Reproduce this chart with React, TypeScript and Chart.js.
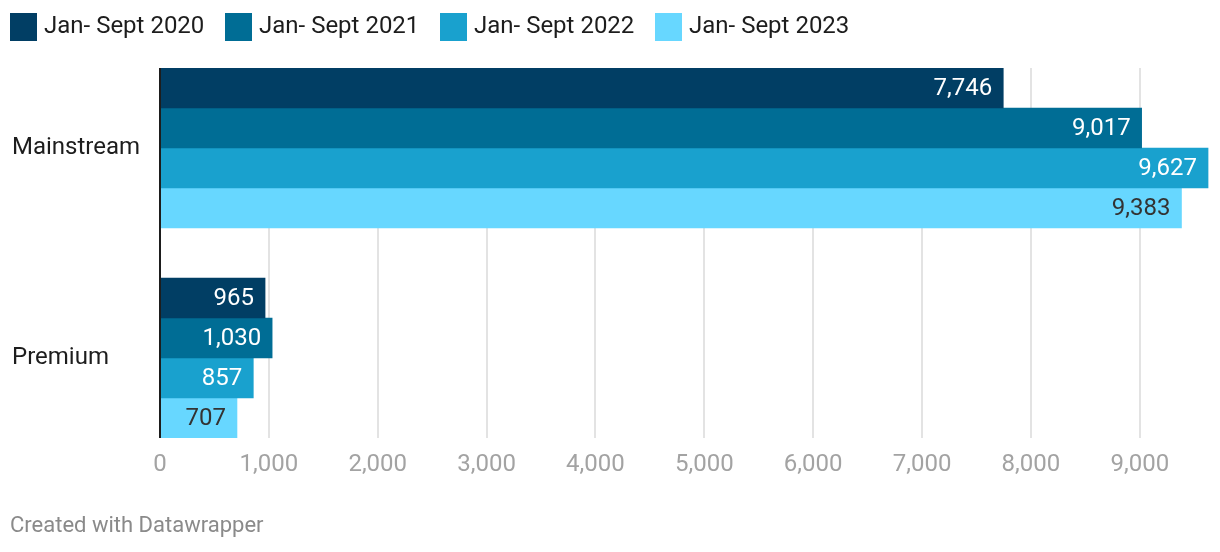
import React, { useEffect, useRef } from 'react';
import { Chart, registerables } from 'chart.js';

Chart.register(...registerables);

const categories = ['Mainstream', 'Premium'];
const seriesLabels = ['Jan- Sept 2020', 'Jan- Sept 2021', 'Jan- Sept 2022', 'Jan- Sept 2023'];
const values2020 = [7746, 965];
const values2021 = [9017, 1030];
const values2022 = [9627, 857];
const values2023 = [9383, 707];
const xTickValues = [0, 1000, 2000, 3000, 4000, 5000, 6000, 7000, 8000, 9000];
const seriesColors = ['#013e64', '#006d95', '#19a1ce', '#67d7ff'];
const labelColors = ['#ffffff', '#ffffff', '#ffffff', '#333333'];
const footerText = 'Created with Datawrapper';

const FONT = 'Roboto, "Noto Sans", sans-serif';

export default function App() {
  const canvasRef = useRef<HTMLCanvasElement | null>(null);

  useEffect(() => {
    const canvas = canvasRef.current;
    if (!canvas) return;
    const allSeries = [values2020, values2021, values2022, values2023];

    const legendPlugin = {
      id: 'customLegend',
      afterDraw(chart: any) {
        const ctx = chart.ctx;
        ctx.save();
        const starts = [10, 225, 440, 655];
        seriesLabels.forEach((lbl, i) => {
          const x = starts[i];
          ctx.fillStyle = seriesColors[i];
          ctx.fillRect(x, 13, 27, 28);
          ctx.fillStyle = '#1d1d1d';
          ctx.font = `24px ${FONT}`;
          ctx.textBaseline = 'middle';
          ctx.textAlign = 'left';
          ctx.fillText(lbl, x + 34, 27);
        });
        ctx.fillStyle = '#8a8a8a';
        ctx.font = `22px ${FONT}`;
        ctx.fillText(footerText, 10, 526);
        ctx.restore();
      },
    };

    const labelsPlugin = {
      id: 'barValueLabels',
      afterDatasetsDraw(chart: any) {
        const ctx = chart.ctx;
        ctx.save();
        const xs = chart.scales.x;
        const x0 = xs.getPixelForValue(0);
        ctx.strokeStyle = '#1d1d1d';
        ctx.lineWidth = 2;
        ctx.beginPath();
        ctx.moveTo(x0, chart.chartArea.top);
        ctx.lineTo(x0, chart.chartArea.bottom);
        ctx.stroke();
        ctx.font = `24px ${FONT}`;
        ctx.textAlign = 'right';
        ctx.textBaseline = 'middle';
        chart.data.datasets.forEach((ds: any, di: number) => {
          const meta = chart.getDatasetMeta(di);
          meta.data.forEach((el: any, i: number) => {
            const v = allSeries[di][i];
            ctx.fillStyle = labelColors[di];
            ctx.fillText(v.toLocaleString('en-US'), el.x - 11, el.y + 1);
          });
        });
        ctx.restore();
      },
    };

    const chart = new Chart(canvas, {
      type: 'bar',
      data: {
        datasets: allSeries.map((vals, si) => ({
          label: seriesLabels[si],
          data: vals.map((v, ci) => ({ x: v, y: ci })),
          backgroundColor: seriesColors[si],
          borderWidth: 0,
          barThickness: 40,
        })),
      },
      options: {
        indexAxis: 'y',
        animation: false,
        responsive: false,
        maintainAspectRatio: false,
        layout: { padding: { left: 12, right: 10, top: 68, bottom: 0 } },
        plugins: {
          legend: { display: false },
          tooltip: { enabled: false },
        },
        scales: {
          x: {
            type: 'linear',
            position: 'bottom',
            min: 0,
            max: 9645,
            offset: false,
            afterBuildTicks: (scale: any) => {
              scale.ticks = xTickValues.map((v) => ({ value: v }));
            },
            afterFit: (scale: any) => {
              scale.height = 114;
            },
            grid: {
              color: (c: any) => (c.tick && c.tick.value === 0 ? '#1d1d1d' : '#e3e3e3'),
              lineWidth: 2,
              drawTicks: false,
            },
            border: { display: false },
            ticks: {
              padding: 13,
              color: '#a3a3a3',
              font: { family: FONT, size: 24 },
              maxRotation: 0,
              autoSkip: false,
              callback: (v: any) => Number(v).toLocaleString('en-US'),
            },
          },
          y: {
            type: 'linear',
            reverse: true,
            offset: false,
            min: -0.381,
            max: 1.381,
            afterBuildTicks: (scale: any) => {
              scale.ticks = categories.map((_, i) => ({ value: i }));
            },
            afterFit: (scale: any) => {
              scale.width = 148;
            },
            grid: { display: false, drawTicks: false, offset: false },
            border: { display: false },
            ticks: {
              crossAlign: 'far',
              padding: 0,
              color: '#1d1d1d',
              font: { family: FONT, size: 24 },
              autoSkip: false,
              callback: (v: any) => categories[Number(v)] ?? '',
            },
          },
        },
      },
      plugins: [legendPlugin, labelsPlugin],
    } as any);

    return () => chart.destroy();
  }, []);

  return (
    <div style={{ position: 'absolute', left: 0, top: 0, width: 1220, height: 552, background: '#fff' }}>
      <canvas ref={canvasRef} width={1220} height={552} style={{ display: 'block' }} />
    </div>
  );
}
